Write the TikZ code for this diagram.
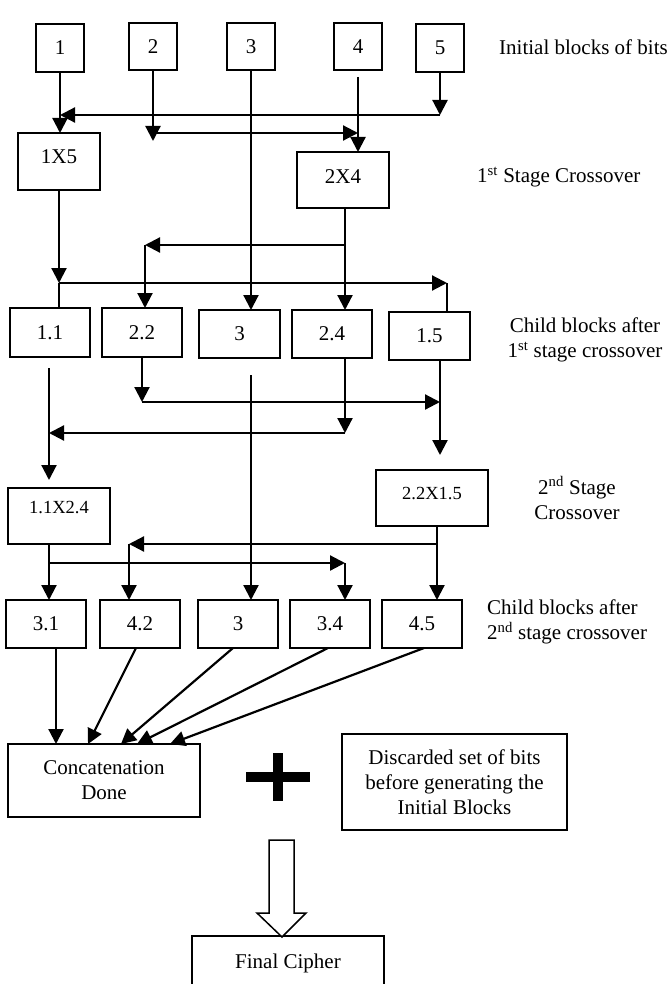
\documentclass[tikz,border=0pt]{standalone}
\usepackage{fontspec}
\setmainfont{Liberation Serif}
\usetikzlibrary{arrows.meta}
\begin{document}
\begin{tikzpicture}[x=1pt,y=-1pt,
  every node/.style={font=\fontsize{21}{25}\selectfont},
  blk/.style={draw, line width=2pt, inner sep=0pt, outer sep=0pt},
  smallfont/.style={font=\fontsize{18.5}{22}\selectfont},
  ln/.style={line width=2.2pt},
  arr/.style={line width=2.2pt, -{Triangle[length=15pt,width=15pt]}}]
\useasboundingbox (0,0) rectangle (669,984);

% initial blocks
\node[blk, minimum width=48pt, minimum height=48pt] (b1) at (60,48) {1};
\node[blk, minimum width=48pt, minimum height=47pt] (b2) at (153,46.5) {2};
\node[blk, minimum width=48pt, minimum height=47pt] (b3) at (251,46.5) {3};
\node[blk, minimum width=48pt, minimum height=47pt] (b4) at (358,46.5) {4};
\node[blk, minimum width=48pt, minimum height=48pt] (b5) at (440,48) {5};

% first stage crossover
\node[blk, minimum width=82pt, minimum height=57pt, text depth=9pt] (c15) at (59,161.5) {1X5};
\node[blk, minimum width=92pt, minimum height=56pt, text depth=7pt] (c24) at (343,180) {2X4};

% child blocks 1
\node[blk, minimum width=80pt, minimum height=49pt] (k11) at (50,332.5) {1.1};
\node[blk, minimum width=80pt, minimum height=49pt] (k22) at (142,332.5) {2.2};
\node[blk, minimum width=81pt, minimum height=48pt] (k3) at (239.5,334) {3};
\node[blk, minimum width=80pt, minimum height=48pt] (k24) at (332,334) {2.4};
\node[blk, minimum width=81pt, minimum height=48pt] (k15) at (429.5,336) {1.5};

% second stage crossover
\node[blk, smallfont, minimum width=102pt, minimum height=56pt, text depth=17pt] (m1) at (59,516) {1.1X2.4};
\node[blk, smallfont, minimum width=112pt, minimum height=56pt, text depth=10pt] (m2) at (432,498) {2.2X1.5};

% child blocks 2
\node[blk, minimum width=80pt, minimum height=48pt] (g31) at (46,624) {3.1};
\node[blk, minimum width=80pt, minimum height=48pt] (g42) at (140,624) {4.2};
\node[blk, minimum width=80pt, minimum height=48pt] (g3) at (238,624) {3};
\node[blk, minimum width=80pt, minimum height=48pt] (g34) at (330,624) {3.4};
\node[blk, minimum width=80pt, minimum height=48pt] (g45) at (422,624) {4.5};

% bottom
\node[blk, minimum width=192pt, minimum height=73pt, align=center] (cat) at (104,780.5) {Concatenation\\Done};
\node[blk, minimum width=225pt, minimum height=96pt, align=center] (disc) at (454.5,782) {Discarded set of bits\\before generating the\\Initial Blocks};
\node[blk, minimum width=192pt, minimum height=54pt] (fin) at (288,963) {Final Cipher};

% side labels
\node[anchor=base west, inner sep=0pt] (t1) at (499,55) {Initial blocks of bits};
\node[anchor=base west, inner sep=0pt] (t2) at (477,183) {1\textsuperscript{st} Stage Crossover};
\node[align=center, inner sep=0pt] (t3) at (585,340) {Child blocks after\\1\textsuperscript{st} stage crossover};
\node[align=center, inner sep=0pt] (t4) at (577,498) {2\textsuperscript{nd} Stage\\Crossover};
\node[align=left, anchor=west, inner sep=0pt] (t5) at (487,622) {Child blocks after\\2\textsuperscript{nd} stage crossover};

% junctions
\coordinate (j1) at (60,115);
\coordinate (j2) at (153,133);
\coordinate (j2t) at (153,141);
\coordinate (j2e) at (358,133);
\coordinate (j3) at (59,283);
\coordinate (j4) at (447,283);
\coordinate (j6) at (345,245);
\coordinate (j7) at (145,245);
\coordinate (j8) at (142,402);
\coordinate (j10) at (440,402);
\coordinate (j11) at (345,433);
\coordinate (j12) at (49,433);
\coordinate (j13) at (49,563);
\coordinate (j14) at (345,563);
\coordinate (j15) at (437,544);
\coordinate (j16) at (129,544);

% stage 1 crossover connectors
\draw[arr] (b1.south) -- (b1.south |- c15.north);
\draw[arr] (b5.south) -- (b5.south |- j1);
\draw[arr] (b5.south |- j1) -- (j1);
\draw[arr] (b2.south) -- (j2t);
\draw[arr] (j2) -- (j2e);
\draw[arr, shorten <=7pt] (b4.south) -- (b4.south |- c24.north);
\draw[arr] (b3.south) -- (b3.south |- k3.north);

% to child blocks 1
\draw[arr] (c15.south) -- (j3);
\draw[ln] (j3) -- (j3 |- k11.north);
\draw[arr] (j3) -- (j4);
\draw[ln] (j4) -- (j4 |- k15.north);
\draw[arr] (c24.south -| j6) -- (j6 |- k24.north);
\draw[arr] (j6) -- (j7);
\draw[arr] (j7) -- (j7 |- k22.north);

% to second stage
\draw[arr, shorten <=11pt, shorten >=8pt] (k11.south -| j12) -- (j12 |- m1.north);
\draw[arr] (k22.south -| j8) -- (j8);
\draw[arr] (j8) -- (j10);
\draw[arr, shorten >=15pt] (k15.south -| j10) -- (j10 |- m2.north);
\draw[arr] (k24.south -| j11) -- (j11);
\draw[arr] (j11) -- (j12);
\draw[arr, shorten <=17pt] (k3.south -| b3.south) -- (b3.south |- g3.north);

% to child blocks 2
\draw[arr] (m1.south -| j13) -- (j13 |- g31.north);
\draw[arr] (j13) -- (j14);
\draw[arr] (j14) -- (j14 |- g34.north);
\draw[arr] (m2.south -| j15) -- (j15 |- g45.north);
\draw[arr] (j15) -- (j16);
\draw[arr] (j16) -- (j16 |- g42.north);

% to concatenation
\draw[arr] ([xshift=10pt]g31.south) -- ([xshift=-48pt]cat.north);
\draw[arr] ([xshift=-4pt]g42.south) -- ([xshift=-16pt]cat.north);
\draw[arr] ([xshift=-5pt]g3.south) -- ([xshift=17pt]cat.north);
\draw[arr] ([xshift=-2pt]g34.south) -- ([xshift=33pt]cat.north);
\draw[arr] ([xshift=2pt]g45.south) -- ([xshift=66pt]cat.north);

% plus sign
\fill (246,772) rectangle (310,782);
\fill (273,753) rectangle (283,801);

% hollow block arrow
\draw[line width=1.5pt, fill=white, line join=miter] (269,840) -- (294,840) -- (294,913) -- (306,913) -- (282,937) -- (257,913) -- (269,913) -- cycle;
\end{tikzpicture}
\end{document}
